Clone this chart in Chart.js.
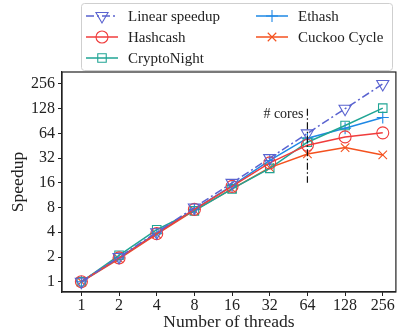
<!DOCTYPE html>
<html>
<head>
<meta charset="utf-8">
<script src="https://cdn.jsdelivr.net/npm/chart.js@4"></script>
<style>
  html, body { margin: 0; padding: 0; background: #fff; }
  #wrap { width: 404px; height: 335px; }
</style>
</head>
<body>
<div id="wrap"><canvas id="speedupChart" width="404" height="335"></canvas></div>
<script>
// Values
const threads = [1, 2, 4, 8, 16, 32, 64, 128, 256];
const yTicks = [1, 2, 4, 8, 16, 32, 64, 128, 256];
const linearSpeedup = [1, 2, 4, 8, 16, 32, 64, 128, 256];
const hashcash = [1, 1.95, 3.85, 7.6, 14.5, 28, 46, 58, 65];
const cryptoNight = [1, 2.1, 4.3, 7.3, 13.5, 24, 50, 80, 130];
const ethash = [1, 1.95, 3.9, 7.6, 14.8, 30, 56, 74, 100];
const cuckooCycle = [1, 1.9, 3.8, 7.4, 13.5, 24.5, 36, 43, 35];

const serif = "'Liberation Serif', 'DejaVu Serif', serif";

function series(label, values, color, style, extra) {
    return Object.assign({
        label: label,
        data: threads.map((t, i) => ({ x: t, y: values[i] })),
        borderColor: color,
        backgroundColor: color,
        borderWidth: 1.5,
        pointStyle: style,
        pointRadius: 6,
        pointBorderWidth: 1.1,
        pointBorderColor: color,
        pointBackgroundColor: 'rgba(0,0,0,0)',
        tension: 0
    }, extra || {});
}

const datasets = [
    series('Linear speedup', linearSpeedup, '#5a63d0', 'triangle',
        { borderDash: [8, 3, 2, 3], pointRotation: 180, pointRadius: 7 }),
    series('Hashcash', hashcash, '#f03c3c', 'circle'),
    series('CryptoNight', cryptoNight, '#20a595', 'rect'),
    series('Ethash', ethash, '#1e88e5', 'cross'),
    series('Cuckoo Cycle', cuckooCycle, '#f4511e', 'crossRot')
];

// axes frame + "# cores" marker at 64 threads
const coresPlugin = {
    id: 'cores',
    afterDatasetsDraw(chart) {
        const ctx = chart.ctx;
        const a = chart.chartArea;
        ctx.save();
        ctx.strokeStyle = '#222';
        ctx.lineWidth = 1.2;
        ctx.strokeRect(a.left, a.top, a.right - a.left, a.bottom - a.top);

        const x = chart.scales.x.getPixelForValue(64);
        const y1 = chart.scales.y.getPixelForValue(128);
        const y2 = chart.scales.y.getPixelForValue(16);
        ctx.strokeStyle = '#111';
        ctx.setLineDash([7, 2.5, 1.5, 2.5]);
        ctx.beginPath();
        ctx.moveTo(x, y1);
        ctx.lineTo(x, y2);
        ctx.stroke();
        ctx.setLineDash([]);
        ctx.fillStyle = '#222';
        ctx.font = '14px ' + serif;
        ctx.textAlign = 'right';
        ctx.textBaseline = 'middle';
        ctx.fillText('# cores', x - 4, chart.scales.y.getPixelForValue(108));
        ctx.restore();
    }
};

// matplotlib-like legend box above the axes
const legendPlugin = {
    id: 'mplLegend',
    afterDraw(chart) {
        const ctx = chart.ctx;
        const box = { x: 81, y: 3, w: 311, h: 67 };
        ctx.save();
        ctx.fillStyle = '#fff';
        ctx.strokeStyle = '#cfcfcf';
        ctx.lineWidth = 1;
        ctx.beginPath();
        ctx.roundRect(box.x + 0.5, box.y + 0.5, box.w, box.h, 3);
        ctx.fill();
        ctx.stroke();
        const cols = [[0, 1, 2], [3, 4]];
        const colX = [86, 256];
        const rowY = [16, 37, 58];
        ctx.font = '15px ' + serif;
        ctx.textBaseline = 'middle';
        ctx.textAlign = 'left';
        cols.forEach((col, c) => {
            col.forEach((di, r) => {
                const ds = chart.data.datasets[di];
                const x0 = colX[c], y = rowY[r];
                ctx.strokeStyle = ds.borderColor;
                ctx.lineWidth = ds.borderWidth;
                ctx.setLineDash(ds.borderDash || []);
                ctx.beginPath();
                ctx.moveTo(x0, y);
                ctx.lineTo(x0 + 32, y);
                ctx.stroke();
                ctx.setLineDash([]);
                ctx.lineWidth = ds.pointBorderWidth;
                ctx.fillStyle = 'rgba(0,0,0,0)';
                Chart.helpers.drawPoint(ctx, {
                    pointStyle: ds.pointStyle,
                    radius: ds.pointRadius,
                    rotation: ds.pointRotation || 0,
                    borderWidth: ds.pointBorderWidth
                }, x0 + 16, y);
                ctx.fillStyle = '#222';
                ctx.fillText(ds.label, x0 + 42, y + 1);
            });
        });
        ctx.restore();
    }
};

new Chart(document.getElementById('speedupChart'), {
    type: 'line',
    data: { datasets: datasets },
    options: {
        responsive: false,
        animation: false,
        layout: { padding: { top: 72, right: 4, left: 0, bottom: 0 } },
        plugins: {
            legend: { display: false },
            tooltip: { enabled: false }
        },
        scales: {
            x: {
                type: 'logarithmic',
                min: 0.748,
                max: 326,
                afterBuildTicks: scale => { scale.ticks = threads.map(v => ({ value: v })); },
                afterFit: scale => { scale.height = 43; },
                ticks: {
                    color: '#222',
                    font: { family: serif, size: 16, lineHeight: 1 },
                    padding: 2,
                    maxRotation: 0,
                    autoSkip: false,
                    callback: v => String(v)
                },
                grid: { drawOnChartArea: false, tickLength: 4, color: '#222' },
                border: { color: '#222', width: 1.2 },
                title: {
                    display: true,
                    text: 'Number of threads',
                    color: '#222',
                    font: { family: serif, size: 17.5, lineHeight: 1 },
                    padding: { top: 0, bottom: 4 }
                }
            },
            y: {
                type: 'logarithmic',
                min: 0.75,
                max: 358,
                afterBuildTicks: scale => { scale.ticks = yTicks.map(v => ({ value: v })); },
                afterFit: scale => { scale.width = 62; },
                ticks: {
                    color: '#222',
                    font: { family: serif, size: 16 },
                    padding: 3,
                    autoSkip: false,
                    callback: v => String(v)
                },
                grid: { drawOnChartArea: false, tickLength: 4, color: '#222' },
                border: { color: '#222', width: 1.2 },
                title: {
                    display: true,
                    text: 'Speedup',
                    color: '#222',
                    font: { family: serif, size: 17.5 },
                    padding: { top: 8, bottom: 0 }
                }
            }
        }
    },
    plugins: [coresPlugin, legendPlugin]
});
</script>
</body>
</html>
